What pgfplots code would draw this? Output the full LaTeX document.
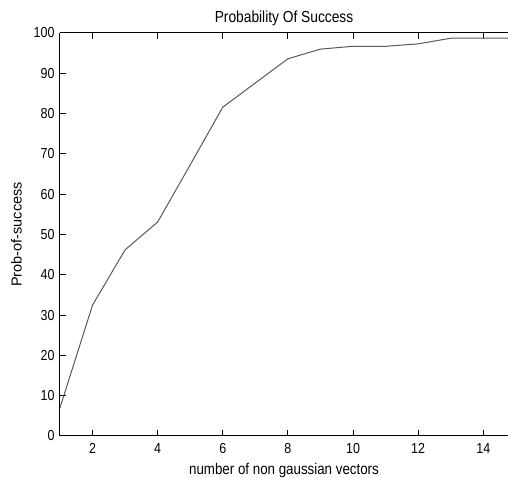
\documentclass[border=0pt]{standalone}
\usepackage{fontspec}
\setmainfont{Liberation Sans}[FakeStretch=0.86]
\newfontfamily\widefont{Liberation Sans}
\usepackage{pgfplots}
\pgfplotsset{compat=1.18}
\begin{document}
\begin{tikzpicture}
\begin{axis}[
    scale only axis,
    width=448pt, height=403pt,
    xmin=1, xmax=14.76,
    ymin=0, ymax=100,
    xtick={2,4,...,14},
    ytick={0,10,...,100},
    axis x line=box, axis y line=left,
    axis line style={-, line width=1pt},
    tick align=inside,
    major tick length=6pt,
    tick style={black, line width=1pt},
    /pgf/number format/assume math mode=true,
    ticklabel style={font=\fontsize{14.5}{16}\selectfont},
    xticklabel style={yshift=-4pt},
    yticklabel style={xshift=-2pt},
    title={Probability Of Success},
    title style={font=\fontsize{16}{18}\selectfont, yshift=-2pt},
    xlabel={number of non gaussian vectors},
    ylabel={Prob-of-success},
    xlabel style={font=\fontsize{15.5}{18}\selectfont, yshift=-3pt},
    ylabel style={font=\widefont\fontsize{14.5}{17}\selectfont, yshift=5pt},
]
\addplot[color=black!65, line width=1pt, mark=none] coordinates {
    (1,7) (2,32.5) (3,46.2) (4,53.1) (5,67.3) (6,81.6) (7,87.6)
    (8,93.6) (9,96.0) (10,96.7) (11,96.7) (12,97.3) (13,98.7)
    (14,98.7) (15,98.7)
};
\coordinate (bl) at (rel axis cs:0,0);
\coordinate (tr) at (rel axis cs:1,1);
\end{axis}
\pgfresetboundingbox
\path ([xshift=-60pt,yshift=-42pt]bl) rectangle ([yshift=33pt]tr);
\end{tikzpicture}
\end{document}
